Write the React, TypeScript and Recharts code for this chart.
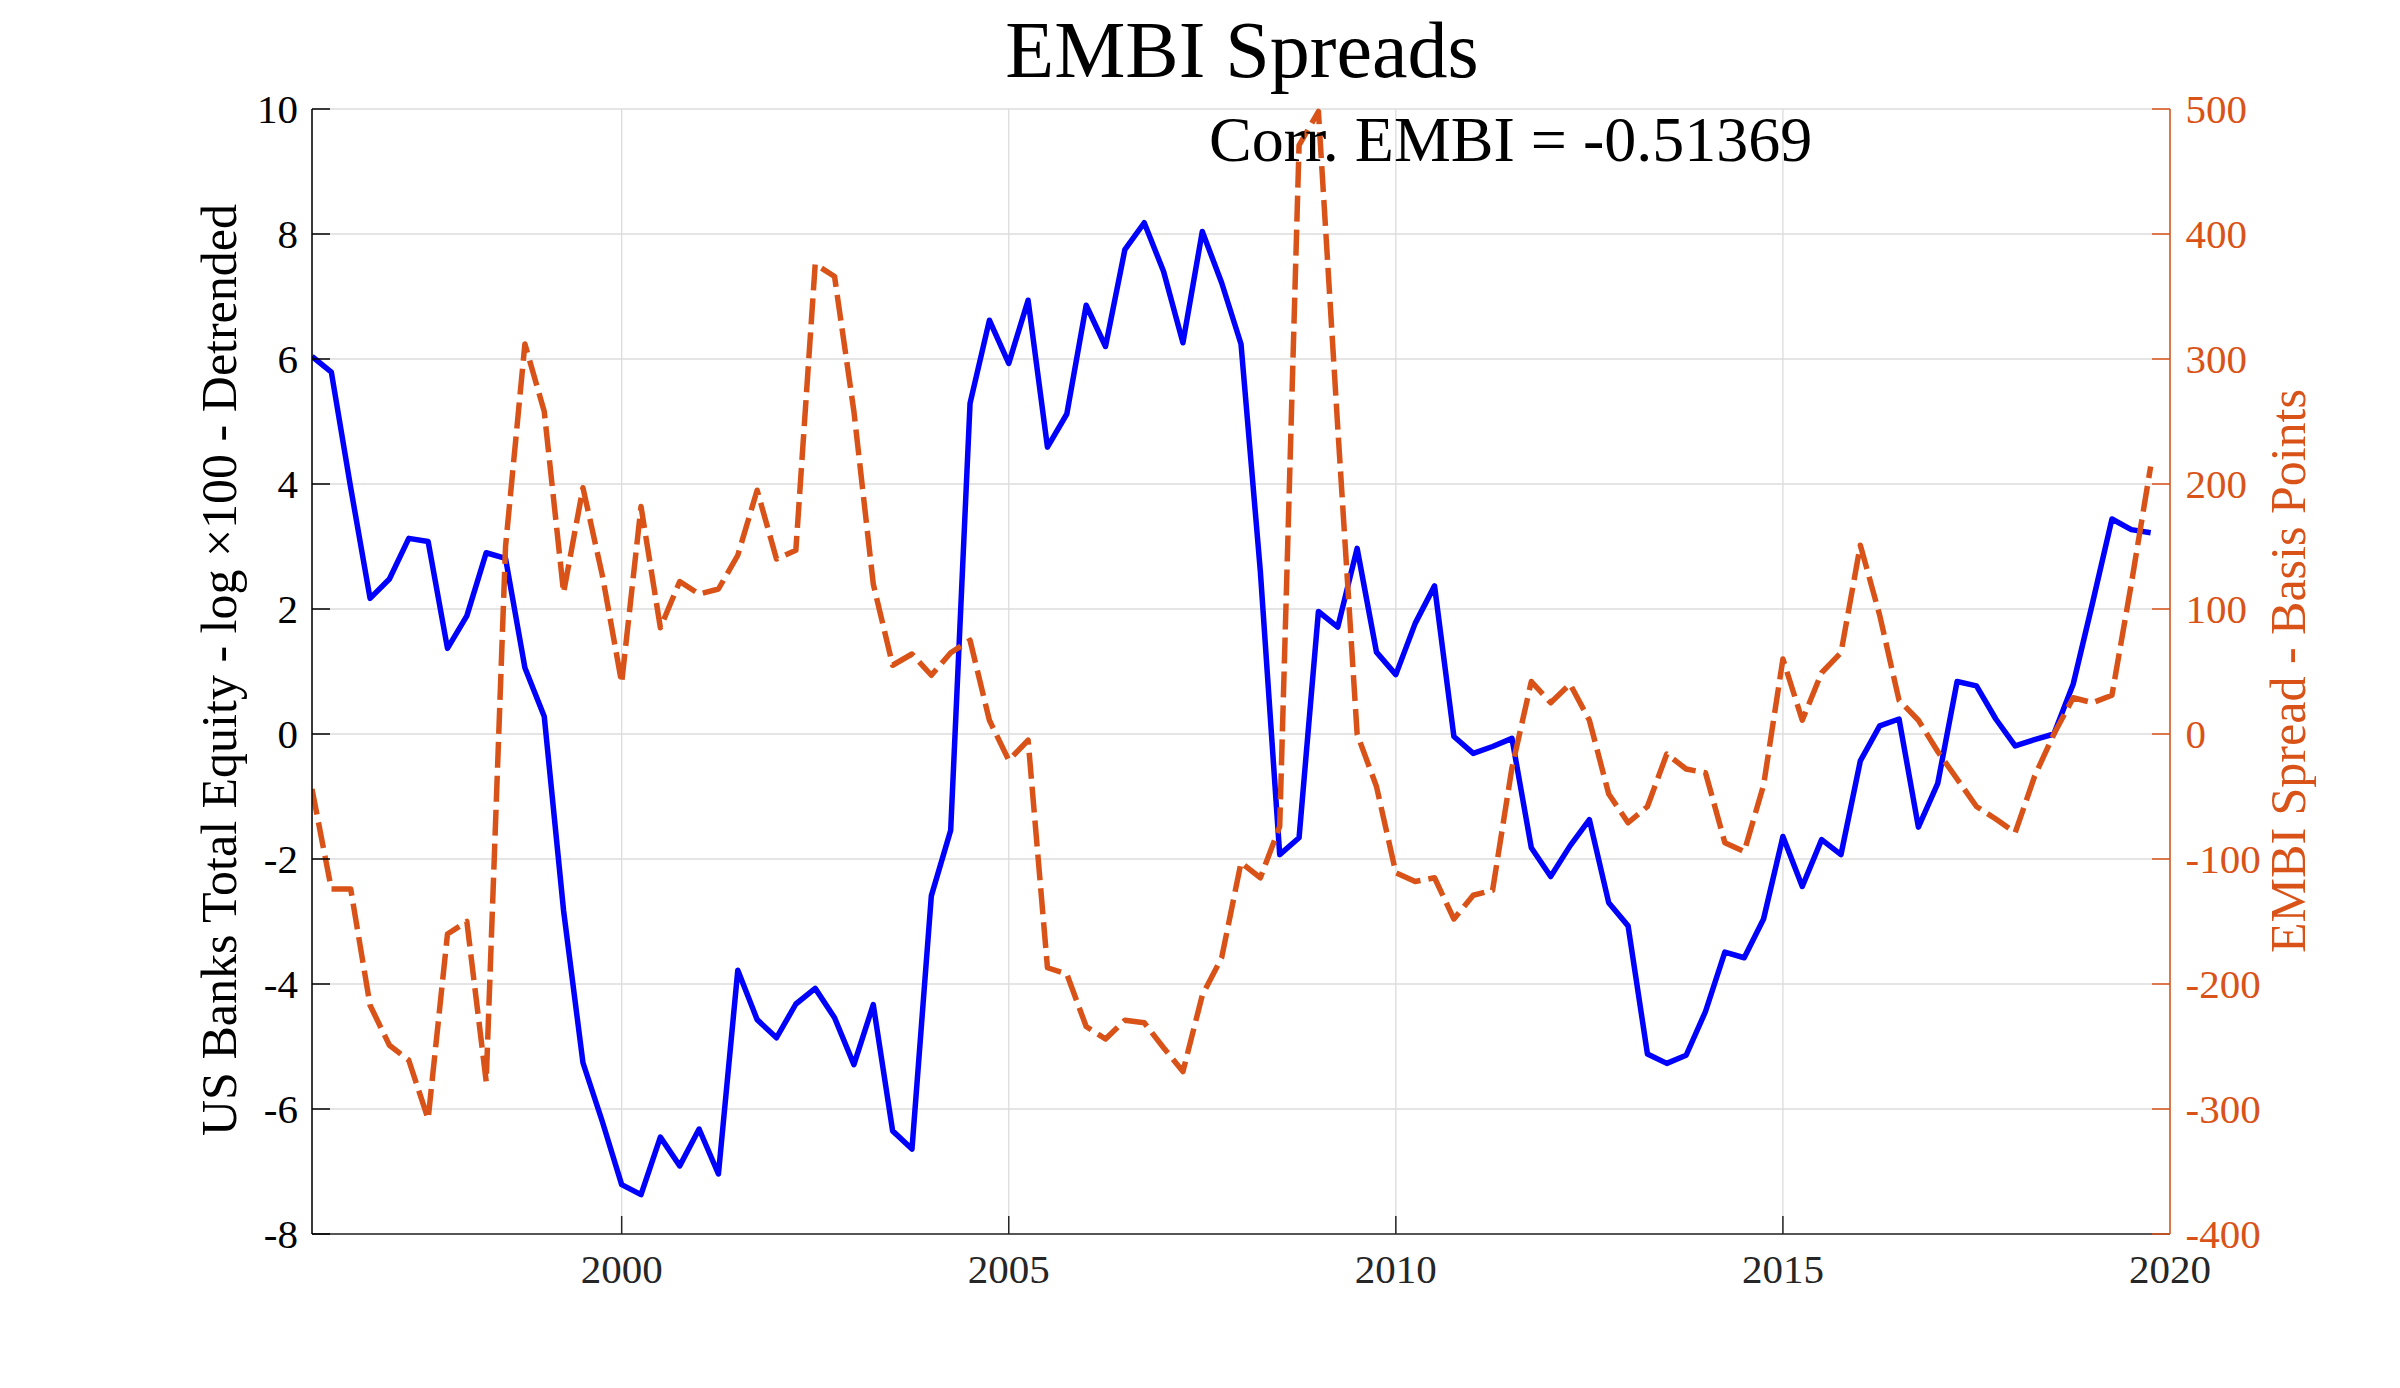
import React from "react";
import { LineChart, Line, XAxis, YAxis, CartesianGrid } from "recharts";

// quarterly observations, first one is 1996 Q1
const START_YEAR = 1996;

// US banks total equity, log x100, detrended (left axis)
const equity = [
  6.04, 5.79, 3.94, 2.17, 2.48, 3.13, 3.08, 1.37,
  1.89, 2.9, 2.81, 1.06, 0.28, -2.83, -5.26, -6.2,
  -7.21, -7.37, -6.45, -6.91, -6.32, -7.04, -3.78, -4.57,
  -4.86, -4.32, -4.07, -4.54, -5.29, -4.33, -6.35, -6.64,
  -2.59, -1.54, 5.29, 6.62, 5.93, 6.94, 4.59, 5.12,
  6.86, 6.2, 7.75, 8.18, 7.4, 6.26, 8.04, 7.22,
  6.24, 2.6, -1.93, -1.66, 1.96, 1.71, 2.97, 1.31,
  0.95, 1.77, 2.37, -0.04, -0.31, -0.2, -0.07, -1.82,
  -2.28, -1.79, -1.37, -2.7, -3.07, -5.12, -5.27, -5.14,
  -4.44, -3.49, -3.58, -2.96, -1.64, -2.44, -1.69, -1.93,
  -0.43, 0.13, 0.24, -1.49, -0.79, 0.84, 0.77, 0.24,
  -0.19, -0.09, 0.0, 0.8, 2.1, 3.44, 3.27, 3.22,
];

// EMBI spread, basis points (right axis)
const embi = [
  -44, -124, -124, -217, -249, -261, -308, -160,
  -150, -278, 150, 312, 258, 113, 197, 127,
  41, 182, 85, 122, 112, 116, 143, 195,
  140, 147, 376, 366, 258, 120, 55, 64,
  47, 65, 75, 11, -21, -5, -187, -192,
  -234, -244, -229, -231, -251, -270, -209, -179,
  -103, -115, -74, 471, 498, 245, 0, -42,
  -111, -118, -115, -148, -129, -125, -27, 42,
  25, 40, 11, -48, -71, -58, -16, -28,
  -31, -87, -94, -41, 60, 11, 49, 65,
  151, 95, 27, 11, -14, -36, -58, -68,
  -79, -34, 0, 29, 25, 31, 120, 214,
];

const xTicks = [2000, 2005, 2010, 2015, 2020];
const leftTicks = [-8, -6, -4, -2, 0, 2, 4, 6, 8, 10];
const rightTicks = [-400, -300, -200, -100, 0, 100, 200, 300, 400, 500];

const data = equity.map((v, i) => ({
  t: START_YEAR + i / 4,
  equity: v,
  embi: embi[i],
}));

const FONT = '"Liberation Serif", "Times New Roman", serif';
const ORANGE = "#D95319";
const DARK = "#262626";
const TICK_LEN = 18;

function BottomTick(props: any) {
  const { x, y, payload } = props;
  return (
    <g>
      {payload.value !== 2020 && (
        <line x1={x} y1={y} x2={x} y2={y - TICK_LEN} stroke={DARK} strokeWidth={1.5} />
      )}
      <text x={x} y={y + 49} textAnchor="middle" fontFamily={FONT} fontSize={41} fill={DARK}>
        {payload.value}
      </text>
    </g>
  );
}

function TopTick(props: any) {
  const { x, y, payload } = props;
  if (payload.value === 2020) return <g />;
  return <line x1={x} y1={y} x2={x} y2={y + TICK_LEN} stroke="#000" strokeWidth={1.5} />;
}

function LeftTick(props: any) {
  const { x, y, payload } = props;
  return (
    <g>
      <line x1={x} y1={y} x2={x + TICK_LEN} y2={y} stroke="#000" strokeWidth={1.5} />
      <text x={x - 14} y={y + 13.5} textAnchor="end" fontFamily={FONT} fontSize={41} fill="#000">
        {payload.value}
      </text>
    </g>
  );
}

function RightTick(props: any) {
  const { x, y, payload } = props;
  return (
    <g>
      <line x1={x} y1={y} x2={x - TICK_LEN} y2={y} stroke={ORANGE} strokeWidth={1.5} />
      <text x={x + 15.5} y={y + 13.5} textAnchor="start" fontFamily={FONT} fontSize={41} fill={ORANGE}>
        {payload.value}
      </text>
    </g>
  );
}

export default function App() {
  return (
    <div style={{ position: "absolute", left: 0, top: 0, width: 2400, height: 1388, background: "#fff" }}>
      <LineChart
        width={2400}
        height={1388}
        data={data}
        margin={{ top: 109, right: 130, bottom: 74, left: 212 }}
      >
        <CartesianGrid
          xAxisId="bottom"
          yAxisId="left"
          stroke="#dcdcdc"
          strokeWidth={1.3}
        />
        <XAxis
          xAxisId="bottom"
          dataKey="t"
          type="number"
          domain={[1996, 2020]}
          ticks={xTicks}
          interval={0}
          allowDataOverflow
          height={80}
          tickSize={0}
          tickMargin={0}
          tickLine={false}
          axisLine={{ stroke: DARK, strokeWidth: 1.5 }}
          tick={<BottomTick />}
        />
        <XAxis
          xAxisId="top"
          orientation="top"
          dataKey="t"
          type="number"
          domain={[1996, 2020]}
          ticks={xTicks}
          interval={0}
          height={0}
          tickSize={0}
          tickMargin={0}
          tickLine={false}
          axisLine={{ stroke: "#000", strokeWidth: 1.5 }}
          tick={<TopTick />}
        />
        <YAxis
          yAxisId="left"
          orientation="left"
          type="number"
          domain={[-8, 10]}
          ticks={leftTicks}
          interval={0}
          width={100}
          tickSize={0}
          tickMargin={0}
          tickLine={false}
          axisLine={{ stroke: "#000", strokeWidth: 1.5 }}
          tick={<LeftTick />}
        />
        <YAxis
          yAxisId="right"
          orientation="right"
          type="number"
          domain={[-400, 500]}
          ticks={rightTicks}
          interval={0}
          width={100}
          tickSize={0}
          tickMargin={0}
          tickLine={false}
          axisLine={{ stroke: ORANGE, strokeWidth: 1.5 }}
          tick={<RightTick />}
        />
        <Line
          xAxisId="bottom"
          yAxisId="left"
          type="linear"
          dataKey="equity"
          stroke="#0000ff"
          strokeWidth={5.5}
          strokeLinejoin="round"
          dot={false}
          activeDot={false}
          isAnimationActive={false}
        />
        <Line
          xAxisId="bottom"
          yAxisId="right"
          type="linear"
          dataKey="embi"
          stroke={ORANGE}
          strokeWidth={5.5}
          strokeDasharray="26 8"
          strokeLinejoin="round"
          dot={false}
          activeDot={false}
          isAnimationActive={false}
        />
      </LineChart>
      <svg
        width={2400}
        height={1388}
        style={{ position: "absolute", left: 0, top: 0, pointerEvents: "none" }}
      >
        <text x={1242} y={77} textAnchor="middle" fontFamily={FONT} fontSize={80} fill="#000">
          EMBI Spreads
        </text>
        <text x={1209} y={161} textAnchor="start" fontFamily={FONT} fontSize={64} fill="#000">
          Corr. EMBI = -0.51369
        </text>
        <text
          x={0}
          y={0}
          transform="translate(236,670) rotate(-90)"
          textAnchor="middle"
          fontFamily={FONT}
          fontSize={50}
          fill="#000"
        >
          US Banks Total Equity - log ×100 - Detrended
        </text>
        <text
          x={0}
          y={0}
          transform="translate(2305,671) rotate(-90)"
          textAnchor="middle"
          fontFamily={FONT}
          fontSize={50}
          fill={ORANGE}
        >
          EMBI Spread - Basis Points
        </text>
      </svg>
    </div>
  );
}
